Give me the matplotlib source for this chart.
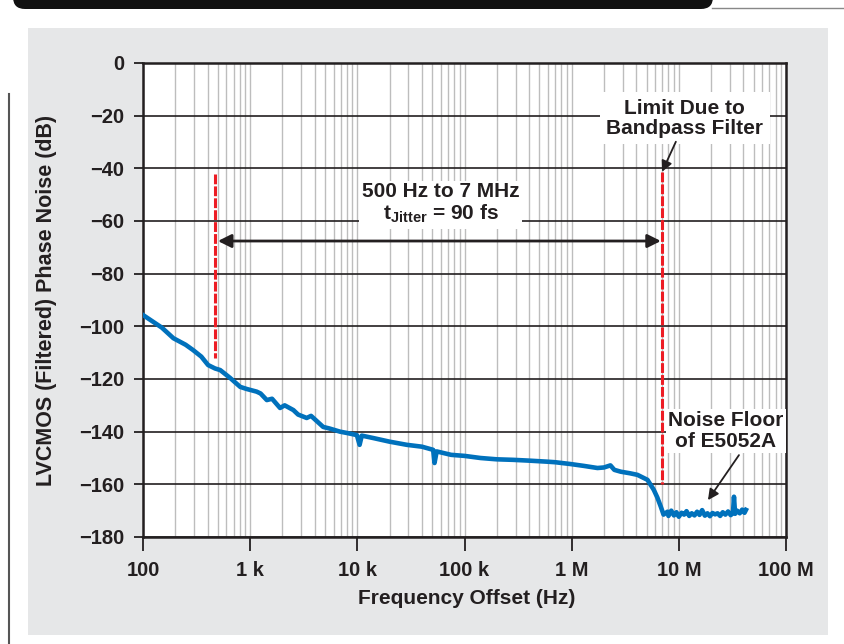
import numpy as np
import matplotlib
matplotlib.use("Agg")
import matplotlib.pyplot as plt
from matplotlib.patches import Rectangle, FancyBboxPatch

plt.rcParams['font.family'] = ['Liberation Sans', 'DejaVu Sans']
plt.rcParams['font.weight'] = 'bold'
plt.rcParams['mathtext.fontset'] = 'custom'
plt.rcParams['mathtext.bf'] = 'Liberation Sans:bold'
plt.rcParams['mathtext.rm'] = 'Liberation Sans:bold'

# phase noise curve (Hz, dB)
freq = [100, 150, 192, 250, 293, 350, 405, 470, 525, 650, 808, 930, 1150, 1250,
        1430, 1600, 1900, 2100, 2530, 2800, 3370, 3700, 4800, 5500, 6900, 8000,
        9900, 10500, 11000, 14000, 20000, 29000, 40000, 51000, 52500, 55000,
        75000, 100000, 141000, 200000, 285000, 400000, 593000, 700000, 979000,
        1.3e6, 1.74e6, 2.0e6, 2.3e6, 2.5e6, 2.87e6, 3.5e6, 4.11e6, 5.1e6, 5.84e6,
        6.3e6, 6.79e6, 7.2e6, 7.84e6,
        8.0e6, 8.5e6, 9.0e6, 9.5e6, 1.0e7, 1.06e7, 1.12e7, 1.18e7, 1.25e7, 1.32e7,
        1.4e7, 1.48e7, 1.56e7, 1.65e7, 1.75e7, 1.85e7, 1.95e7, 2.06e7, 2.18e7,
        2.3e7, 2.43e7, 2.57e7, 2.72e7, 2.88e7, 3.05e7, 3.2e7, 3.27e7, 3.35e7,
        3.5e7, 3.7e7, 3.9e7, 4.1e7, 4.23e7]
noise = [-95.7, -100.5, -104.5, -107, -109, -111.5, -114.7, -116, -116.6, -119.6,
         -123, -123.8, -124.8, -125.5, -128, -127.5, -131, -130, -131.8, -133.5,
         -134.8, -134, -138.2, -138.8, -140, -140.5, -141.3, -145, -141.5, -142.4,
         -143.8, -145, -145.7, -146.9, -151.9, -147.5, -148.8, -149.2, -150,
         -150.5, -150.7, -151, -151.4, -151.6, -152.3, -153, -153.8, -153.6,
         -152.8, -154.5, -155.2, -155.8, -156.4, -158.3, -162.1, -165, -168.5,
         -171.5, -170.4,
         -172.0, -170.0, -171.8, -170.6, -172.3, -170.8, -171.5, -170.2, -172.0,
         -171.0, -171.8, -170.4, -171.6, -169.8, -171.9, -171.0, -172.1, -170.9,
         -171.4, -171.0, -172.0, -170.6, -171.5, -170.3, -171.7, -170.8, -164.7,
         -171.2, -170.0, -171.0, -169.6, -170.8, -169.7]

xticks = [1e2, 1e3, 1e4, 1e5, 1e6, 1e7, 1e8]
xticklabels = ['100', '1 k', '10 k', '100 k', '1 M', '10 M', '100 M']
yticks = list(range(0, -181, -20))
yticklabels = ['0'] + ['\u2212%d' % -v for v in yticks[1:]]

f_low, f_high = 465, 6.9e6
dark = '#231F20'
red = '#ED1C24'
blue = '#0071BC'

fig = plt.figure(figsize=(8.44, 6.44), dpi=100)

# background decoration in pixel coords
bg = fig.add_axes([0, 0, 1, 1], zorder=-1)
bg.set_xlim(0, 844)
bg.set_ylim(644, 0)
bg.axis('off')
bg.add_patch(Rectangle((28, 28), 800, 607, facecolor='#E6E7E8', edgecolor='none'))
bg.add_patch(FancyBboxPatch((13, -40), 700, 49, boxstyle='round,pad=0,rounding_size=12',
                            facecolor='#111111', edgecolor='none'))
bg.plot([712, 844], [8, 8], color='#888888', lw=1)
bg.plot([9, 9], [94, 644], color='#555555', lw=1.5)

ax = fig.add_axes([143 / 844, 1 - 537 / 644, 643 / 844, 474 / 644])
ax.set_facecolor('white')
ax.set_xscale('log')
ax.set_xlim(1e2, 1e8)
ax.set_ylim(-180, 0)

ax.grid(True, which='minor', axis='x', color='#BDBDBD', lw=1.0, zorder=0)
ax.grid(True, which='major', axis='x', color='#BDBDBD', lw=1.0, zorder=0)
ax.grid(True, which='major', axis='y', color=dark, lw=1.2, zorder=0)
ax.set_axisbelow(True)

ax.set_xticks(xticks)
ax.set_xticklabels(xticklabels, fontsize=14.5, fontweight='bold')
ax.set_yticks(yticks)
ax.set_yticklabels(yticklabels, fontsize=14.5, fontweight='bold')
ax.tick_params(axis='x', which='major', length=10, width=1.3, pad=7, color=dark, labelcolor=dark)
ax.tick_params(axis='x', which='minor', length=0)
ax.tick_params(axis='y', length=6.5, width=1.3, pad=7, color=dark, labelcolor=dark)
for s in ax.spines.values():
    s.set_color(dark)
    s.set_linewidth(1.8)

ax.plot(freq, noise, color=blue, lw=3.3, zorder=4, solid_joinstyle='round')

ax.plot([f_low, f_low], [-42, -112], color=red, lw=2.2, dashes=(3.2, 0.7), zorder=5)
ax.plot([f_high, f_high], [-41.5, -160], color=red, lw=2.2, dashes=(3.2, 0.7), zorder=3)

ax.annotate('', xy=(500, -67.6), xytext=(6.8e6, -67.6),
            arrowprops=dict(arrowstyle='<|-|>', color=dark, lw=2, mutation_scale=20,
                            shrinkA=0, shrinkB=0), zorder=6)

ax.text(5.97e4, -53.5, '500 Hz to 7 MHz\n$\\mathbf{t_{Jitter}}$ = 90 fs', ha='center', va='center',
        fontsize=15, fontweight='bold', color=dark, linespacing=1.1, zorder=6,
        bbox=dict(boxstyle='square,pad=0.15', facecolor='white', edgecolor='none'))

ax.text(1.14e7, -21, 'Limit Due to\nBandpass Filter', ha='center', va='center',
        fontsize=15, fontweight='bold', color=dark, linespacing=1.1, zorder=6,
        bbox=dict(boxstyle='square,pad=0.3', facecolor='white', edgecolor='none'))
ax.annotate('', xy=(6.98e6, -41.3), xytext=(9.38e6, -29.9),
            arrowprops=dict(arrowstyle='-|>', color=dark, lw=1.3, mutation_scale=16,
                            shrinkA=0, shrinkB=0), zorder=6)

ax.text(2.75e7, -139.7, 'Noise Floor\nof E5052A', ha='center', va='center',
        fontsize=15, fontweight='bold', color=dark, linespacing=1.1, zorder=6,
        bbox=dict(boxstyle='square,pad=0.1', facecolor='white', edgecolor='none'))
ax.annotate('', xy=(1.87e7, -166), xytext=(3.64e7, -148.9),
            arrowprops=dict(arrowstyle='-|>', color=dark, lw=1.3, mutation_scale=16,
                            shrinkA=0, shrinkB=0), zorder=6)

fig.text(47 / 844, 1 - 300 / 644, 'LVCMOS (Filtered) Phase Noise (dB)', rotation=90,
         ha='center', va='center', fontsize=15.5, fontweight='bold', color=dark)
fig.text(467 / 844, 1 - 598 / 644, 'Frequency Offset (Hz)',
         ha='center', va='center', fontsize=15, fontweight='bold', color=dark)

fig.savefig('out.png', dpi=100)
